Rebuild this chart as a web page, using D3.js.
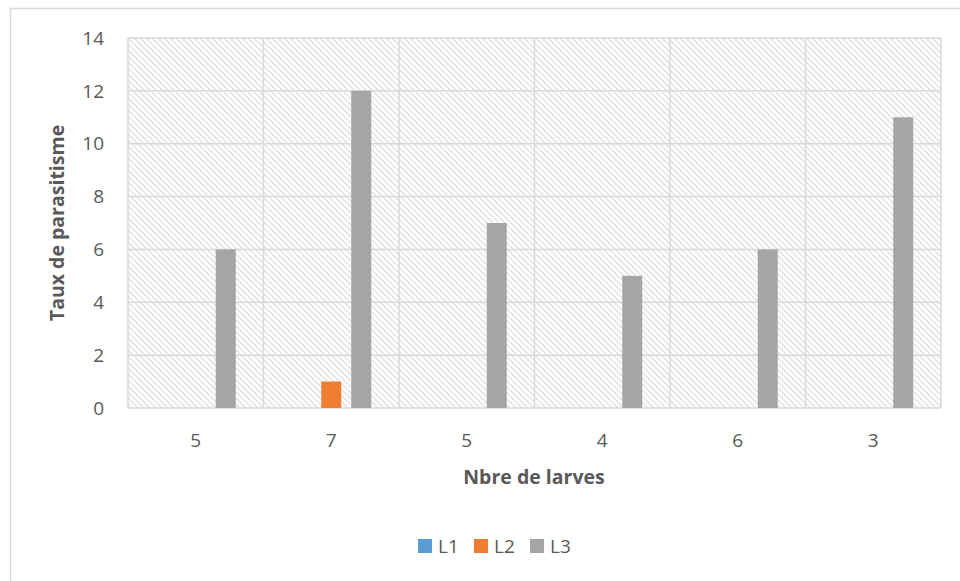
<!DOCTYPE html>
<html>
<head>
<meta charset="utf-8">
<script src="https://cdn.jsdelivr.net/npm/d3@7"></script>
<style>
  body { margin: 0; background: #fff; }
  text { font-family: "Open Sans", Lato, sans-serif; fill: #595959; }
</style>
</head>
<body>
<div id="chart"></div>
<script>
'use strict'
const categories = ["5", "7", "5", "4", "6", "3"]
const seriesNames = ["L1", "L2", "L3"]
const L1 = [0, 0, 0, 0, 0, 0]
const L2 = [0, 1, 0, 0, 0, 0]
const L3 = [6, 12, 7, 5, 6, 11]
const yTicks = [0, 2, 4, 6, 8, 10, 12, 14]
const colors = ["#5b9bd5", "#ed7d31", "#a5a5a5"]

const W = 960, H = 581
const margin = {left: 128, right: 19, top: 38, bottom: 173}
const svg = d3.select("#chart").append("svg")
  .attr("width", W).attr("height", H)

// hatch pattern for plot area
const defs = svg.append("defs")
const pat = defs.append("pattern")
  .attr("id", "hatch")
  .attr("patternUnits", "userSpaceOnUse")
  .attr("width", 6).attr("height", 6)
pat.append("path")
  .attr("d", "M-1,-1 L7,7 M-7,-1 L1,7 M5,-1 L13,7")
  .attr("stroke", "#e0e0e0")
  .attr("stroke-width", 1.4)

// chart border (cut off at the right/bottom)
svg.append("rect")
  .attr("x", 10.5).attr("y", 8.5)
  .attr("width", 960).attr("height", 600)
  .attr("fill", "none").attr("stroke", "#d9d9d9").attr("stroke-width", 1.5)

const x0 = d3.scaleBand()
  .domain(d3.range(categories.length))
  .range([margin.left, W - margin.right])
const x1 = d3.scaleBand()
  .domain(seriesNames)
  .range([0, x0.bandwidth()])
  .paddingInner(1 / 3)
  .paddingOuter(0.925)
const y = d3.scaleLinear().domain([0, 14]).range([H - margin.bottom, margin.top])

const g = svg.append("g")
g.append("rect")
  .attr("x", margin.left).attr("y", margin.top)
  .attr("width", W - margin.right - margin.left)
  .attr("height", H - margin.bottom - margin.top)
  .attr("fill", "url(#hatch)")

// gridlines
g.selectAll(".hgrid").data(yTicks).enter().append("line")
  .attr("x1", margin.left).attr("x2", W - margin.right)
  .attr("y1", d => y(d)).attr("y2", d => y(d))
  .attr("stroke", "#d9d9d9").attr("stroke-width", 1.5)
const vBounds = d3.range(categories.length + 1)
g.selectAll(".vgrid").data(vBounds).enter().append("line")
  .attr("x1", d => margin.left + d * x0.step()).attr("x2", d => margin.left + d * x0.step())
  .attr("y1", y(14)).attr("y2", y(0))
  .attr("stroke", "#d9d9d9").attr("stroke-width", 1.5)

// bars
const series = [L1, L2, L3]
series.forEach((vals, si) => {
  g.selectAll(".bar" + si).data(vals).enter().append("rect")
    .attr("x", (d, i) => x0(i) + x1(seriesNames[si]))
    .attr("width", x1.bandwidth())
    .attr("y", d => y(d))
    .attr("height", d => y(0) - y(d))
    .attr("fill", colors[si])
})

// y tick labels
g.selectAll(".ylab").data(yTicks).enter().append("text")
  .attr("x", 104).attr("y", d => y(d))
  .attr("dy", "0.35em")
  .attr("text-anchor", "end")
  .attr("font-size", 19)
  .text(d => d)

// x tick labels
g.selectAll(".xlab").data(categories).enter().append("text")
  .attr("x", (d, i) => x0(i) + x0.bandwidth() / 2)
  .attr("y", 440)
  .attr("dy", "0.35em")
  .attr("text-anchor", "middle")
  .attr("font-size", 19)
  .text(d => d)

// axis titles
svg.append("text")
  .attr("transform", "translate(57,223) rotate(-90)")
  .attr("dy", "0.35em")
  .attr("text-anchor", "middle")
  .attr("font-size", 19.5).attr("font-weight", "bold")
  .text("Taux de parasitisme")
svg.append("text")
  .attr("x", 534).attr("y", 477)
  .attr("dy", "0.35em")
  .attr("text-anchor", "middle")
  .attr("font-size", 19.5).attr("font-weight", "bold")
  .text("Nbre de larves")

// legend
const leg = svg.append("g")
seriesNames.forEach((n, i) => {
  const lx = 418 + i * 56
  leg.append("rect")
    .attr("x", lx).attr("y", 539).attr("width", 14).attr("height", 14)
    .attr("fill", colors[i])
  leg.append("text")
    .attr("x", lx + 20).attr("y", 546)
    .attr("dy", "0.35em")
    .attr("font-size", 19)
    .text(n)
})
</script>
</body>
</html>
